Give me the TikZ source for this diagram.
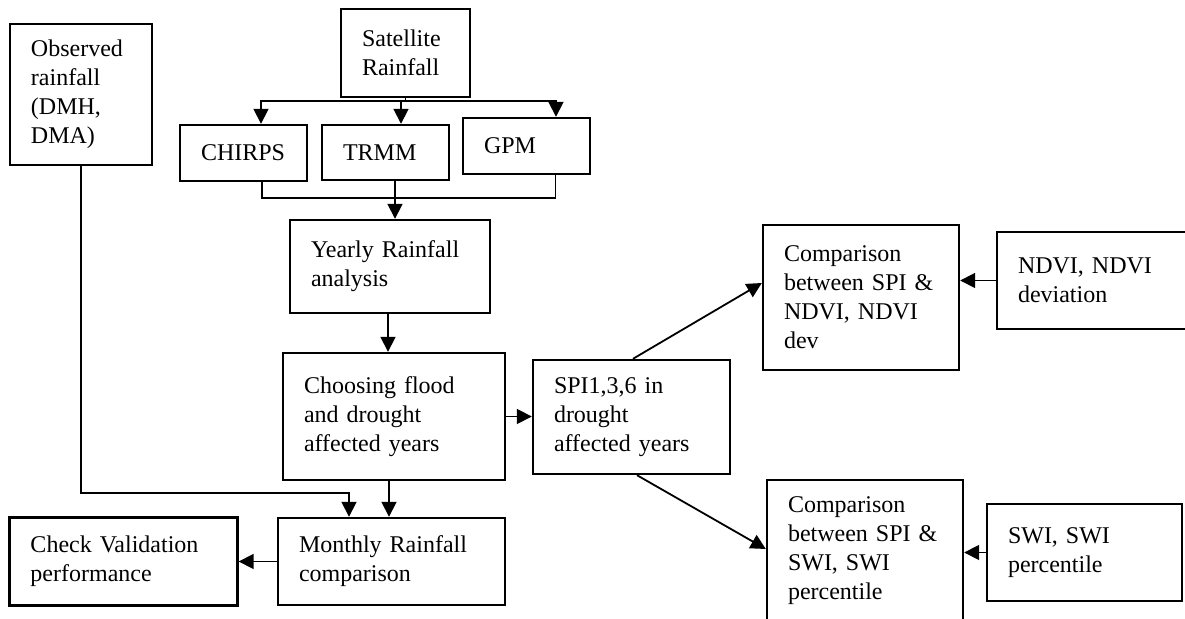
\documentclass[tikz,border=0pt]{standalone}
\usepackage{fontspec}
\setmainfont{Liberation Serif}
\usetikzlibrary{arrows.meta}
\begin{document}
\begin{tikzpicture}[x=0.5pt,y=-0.5pt,
  box/.style={draw, line width=1.2pt, rectangle, align=left, inner xsep=10.5pt, inner ysep=0pt,
    font=\fontsize{12}{14.5}\selectfont},
  conn/.style={line width=0.9pt},
  arr/.style={conn, -{Triangle[length=7.5pt,width=7.5pt]}}]
\useasboundingbox (0,0) rectangle (1185,619);

\node[box, text width=50pt,   minimum height=70.5pt] (obs)     at (81,94.5)    {Observed\\rainfall\\(DMH,\\DMA)};
\node[box, text width=43.5pt, minimum height=44pt]   (sat)     at (405.5,53)   {Satellite\\Rainfall};
\node[box, text width=42.5pt, minimum height=28pt]   (chirps)  at (243.5,153)  {CHIRPS};
\node[box, text width=42.5pt, minimum height=27.5pt] (trmm)    at (385.5,152.5){TRMM};
\node[box, text width=42.5pt, minimum height=28pt]   (gpm)     at (526.5,146)  {GPM};
\node[box, text width=79pt,   minimum height=46.5pt] (yearly)  at (390,266.5)  {Yearly Rainfall\\analysis};
\node[box, text width=90pt,   minimum height=63.5pt] (choose)  at (394,416.5)  {Choosing flood\\and drought\\affected years};
\node[box, text width=92.5pt, minimum height=43.5pt] (monthly) at (391.5,561.5){Monthly Rainfall\\comparison};
\node[box, text width=93pt,   minimum height=44pt]   (check)   at (123.5,561.5){Check Validation\\performance};
\node[box, text width=77.5pt, minimum height=57pt]   (spi)     at (631.5,417)  {SPI1,3,6 in\\drought\\affected years};
\node[box, text width=77pt,   minimum height=72.5pt] (comp1)   at (861,297.5)  {Comparison\\between SPI \&\\NDVI, NDVI\\dev};
\node[box, text width=80.5pt, minimum height=48.5pt] (ndvi)    at (1098.5,280.5){NDVI, NDVI\\deviation};
\node[box, text width=77pt,   minimum height=71pt]   (comp2)   at (865,551)    {Comparison\\between SPI \&\\SWI, SWI\\percentile};
\node[box, text width=76.5pt, minimum height=48.5pt] (swi)     at (1084.5,552.5){SWI, SWI\\percentile};

% satellite branches
\coordinate (br) at (405.5,101);
\draw[conn] (sat.south) -- (br);
\draw[arr] (br) -| ([xshift=8.75pt]chirps.north);
\draw[arr] (br) -| ([xshift=7.75pt]trmm.north);
\draw[arr] (br) -| ([xshift=14.75pt]gpm.north);

% merge
\coordinate (mg) at (395,198);
\draw[conn] ([xshift=9.25pt]chirps.south) |- (mg) -| ([xshift=14.5pt]gpm.south);
\draw[arr] ([xshift=4.75pt]trmm.south) -- ([xshift=2.5pt]yearly.north);

% main chain
\draw[arr] ([xshift=-1pt]yearly.south) -- ([xshift=-3pt]choose.north);
\draw[arr] ([xshift=-2.5pt]choose.south) -- ([xshift=-1.25pt]monthly.north);
\coordinate (elb) at (349,493);
\draw[arr] (obs.south) |- (elb) -- (elb |- monthly.north);
\draw[arr] (monthly.west) -- (monthly.west -| check.east);
\draw[arr] (choose.east) -- (choose.east -| spi.west);

% SPI branches
\draw[arr] ([xshift=0.75pt]spi.north) -- ([yshift=7.25pt]comp1.west);
\draw[arr] ([xshift=2.75pt]spi.south) -- ([yshift=1pt]comp2.west);
\draw[arr] (ndvi.west) -- (ndvi.west -| comp1.east);
\draw[arr] (swi.west) -- (swi.west -| comp2.east);
\end{tikzpicture}
\end{document}
